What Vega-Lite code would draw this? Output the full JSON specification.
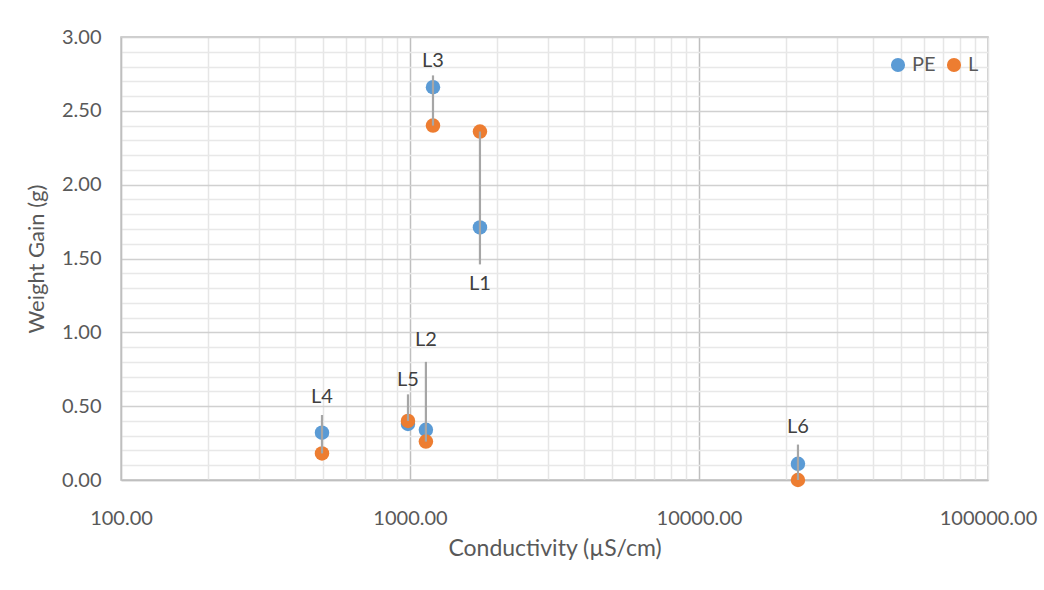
{
  "$schema": "https://vega.github.io/schema/vega-lite/v6.json",
  "width": 867,
  "height": 443,
  "autosize": "none",
  "padding": {"left": 121, "top": 37, "right": 56, "bottom": 110},
  "background": "white",
  "config": {
    "font": "Lato",
    "view": {"stroke": "#bfbfbf", "strokeWidth": 1.5},
    "text": {"font": "Lato"}
  },
  "data": {
    "values": [
      {"site": "L1", "cond": 1746, "PE": 1.71, "L": 2.36, "labelY": 1.33, "lineY": 1.46},
      {"site": "L2", "cond": 1135, "PE": 0.34, "L": 0.26, "labelY": 0.95, "lineY": 0.80},
      {"site": "L3", "cond": 1201, "PE": 2.66, "L": 2.40, "labelY": 2.84, "lineY": 2.74},
      {"site": "L4", "cond": 496, "PE": 0.32, "L": 0.18, "labelY": 0.56, "lineY": 0.44},
      {"site": "L5", "cond": 984, "PE": 0.38, "L": 0.40, "labelY": 0.68, "lineY": 0.58},
      {"site": "L6", "cond": 22000, "PE": 0.11, "L": 0.00, "labelY": 0.36, "lineY": 0.24}
    ]
  },
  "layer": [
    {
      "transform": [{"fold": ["PE", "L"], "as": ["series", "gain"]}],
      "mark": {"type": "point", "filled": true, "opacity": 1, "size": 210},
      "encoding": {
        "x": {
          "field": "cond",
          "type": "quantitative",
          "scale": {"type": "log", "domain": [100, 100000], "nice": false},
          "axis": {
            "title": "Conductivity (µS/cm)",
            "titleFont": "Lato",
            "titleFontSize": 23,
            "titleFontWeight": "normal",
            "titleColor": "#595959",
            "titlePadding": 9,
            "values": [100,200,300,400,500,600,700,800,900,1000,2000,3000,4000,5000,6000,7000,8000,9000,10000,20000,30000,40000,50000,60000,70000,80000,90000,100000],
            "tickCount": 200,
            "labelExpr": "indexof([100,1000,10000,100000], datum.value) >= 0 ? format(datum.value, '.2f') : ''",
            "labelOverlap": false,
            "labelFontSize": 20,
            "labelColor": "#595959",
            "labelPadding": 28,
            "labelFlush": false,
            "ticks": false,
            "domainColor": "#bfbfbf",
            "domainWidth": 1.5,
            "gridColor": {"condition": {"test": "datum.value == 1000 || datum.value == 10000", "value": "#bfbfbf"}, "value": "#e6e6e6"},
            "gridWidth": 1.5
          }
        },
        "y": {
          "field": "gain",
          "type": "quantitative",
          "scale": {"domain": [0, 3], "nice": false},
          "axis": {
            "title": "Weight Gain (g)",
            "titleFont": "Lato",
            "titleFontSize": 22,
            "titleFontWeight": "normal",
            "titleColor": "#595959",
            "titlePadding": 13,
            "values": [0,0.1,0.2,0.3,0.4,0.5,0.6,0.7,0.8,0.9,1,1.1,1.2,1.3,1.4,1.5,1.6,1.7,1.8,1.9,2,2.1,2.2,2.3,2.4,2.5,2.6,2.7,2.8,2.9,3],
            "tickCount": 200,
            "labelExpr": "abs(datum.value*2 - round(datum.value*2)) < 0.001 ? format(datum.value, '.2f') : ''",
            "labelOverlap": false,
            "labelFontSize": 20,
            "labelColor": "#595959",
            "labelPadding": 20,
            "ticks": false,
            "domainColor": "#bfbfbf",
            "domainWidth": 1.5,
            "gridColor": {"condition": {"test": "abs(datum.value*2 - round(datum.value*2)) < 0.001", "value": "#d0d0d0"}, "value": "#e8e8e8"},
            "gridWidth": 1.5
          }
        },
        "color": {
          "field": "series",
          "type": "nominal",
          "scale": {"domain": ["PE", "L"], "range": ["#5B9BD5", "#ED7D31"]},
          "legend": {
            "title": null,
            "orient": "none",
            "legendX": 767,
            "legendY": 18,
            "direction": "horizontal",
            "symbolType": "circle",
            "symbolSize": 200,
            "labelFontSize": 20,
            "labelColor": "#595959",
            "labelOffset": 4,
            "columnPadding": 8
          }
        }
      }
    },
    {
      "mark": {"type": "rule", "color": "#a6a6a6", "strokeWidth": 2.2},
      "encoding": {
        "x": {"field": "cond", "type": "quantitative"},
        "y": {"field": "lineY", "type": "quantitative"},
        "y2": {"field": "L"}
      }
    },
    {
      "mark": {"type": "text", "fontSize": 20, "color": "#404040", "align": "center", "baseline": "middle"},
      "encoding": {
        "x": {"field": "cond", "type": "quantitative"},
        "y": {"field": "labelY", "type": "quantitative"},
        "text": {"field": "site"}
      }
    }
  ]
}
